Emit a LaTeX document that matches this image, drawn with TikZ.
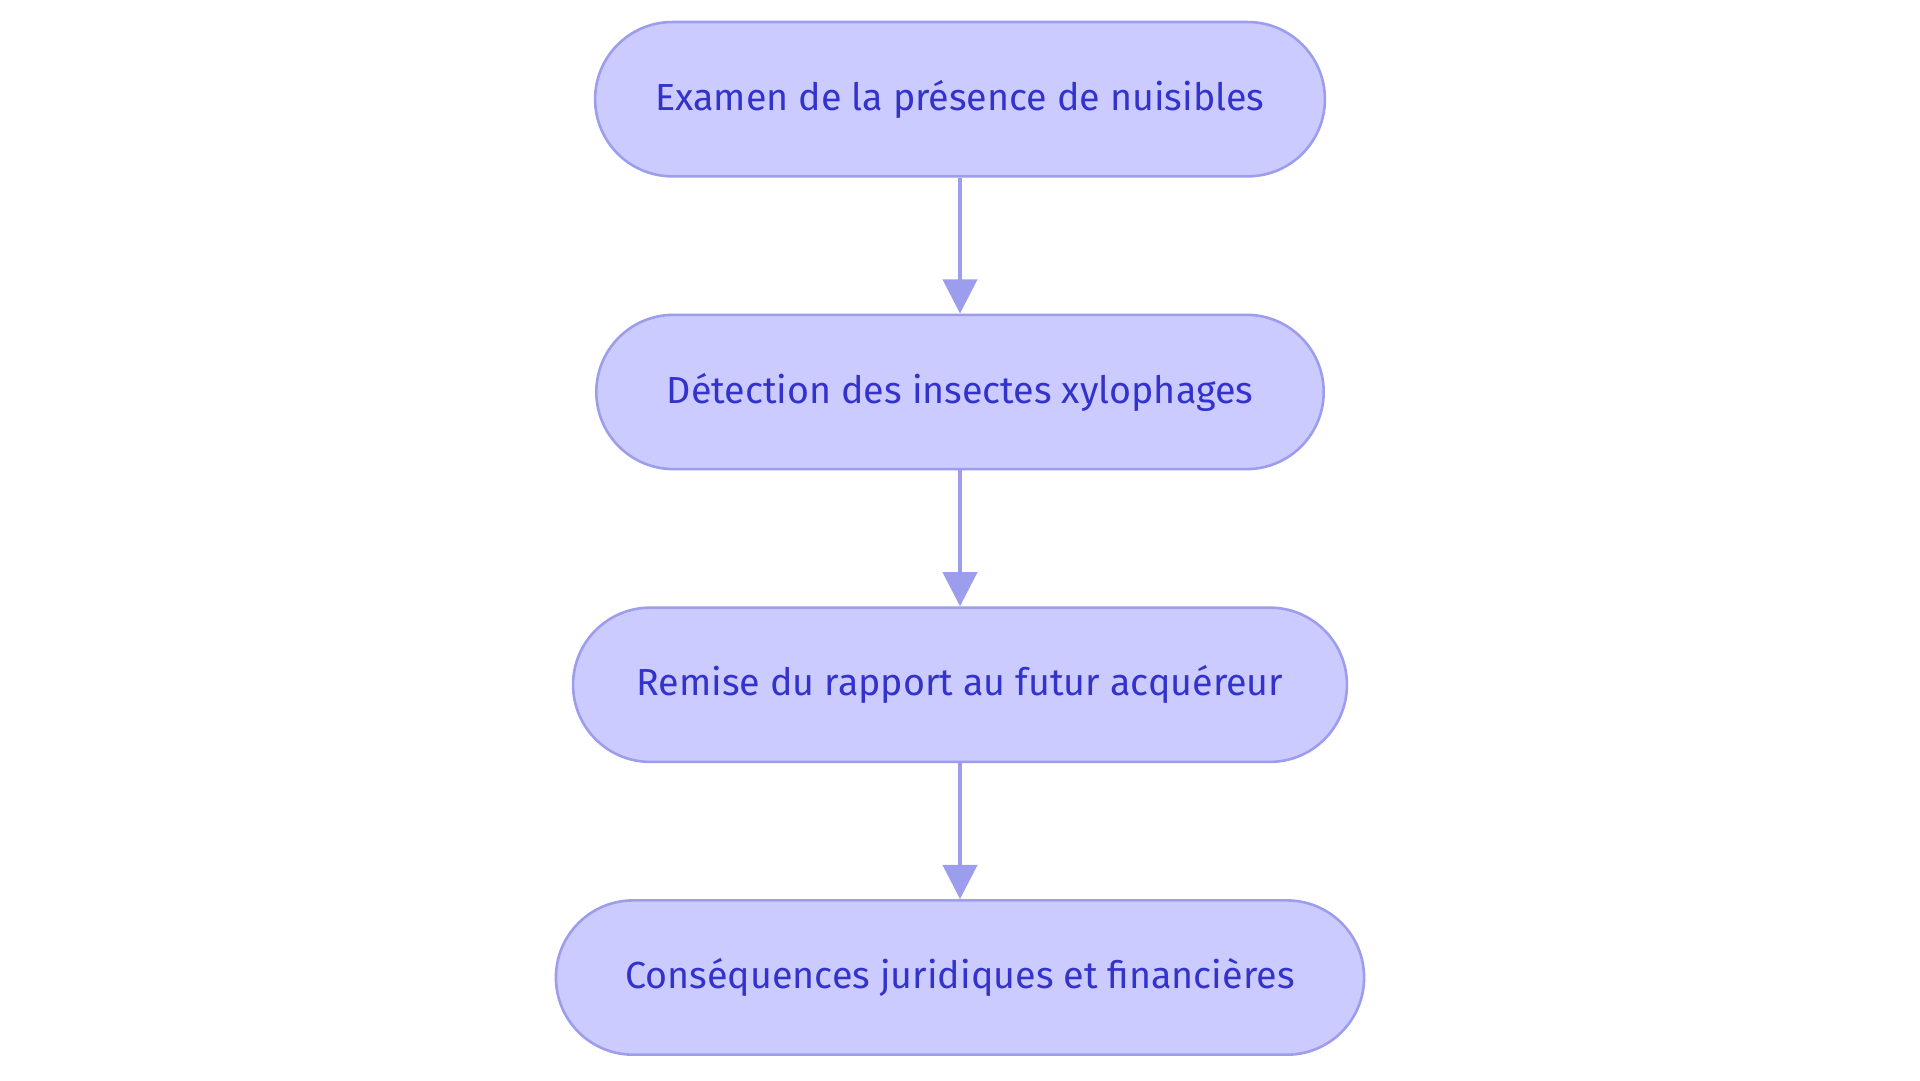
\documentclass[tikz,border=0pt]{standalone}
\usepackage{fontspec}
\setmainfont{Fira Sans}
\usetikzlibrary{positioning,arrows.meta}
\definecolor{boxfill}{HTML}{CBCBFF}
\definecolor{boxline}{HTML}{9D9DED}
\definecolor{boxtext}{HTML}{3333CC}
\begin{document}
\begin{tikzpicture}[
                stage/.style={rectangle, rounded corners=1.26cm, minimum height=2.52cm,
                  fill=boxfill, draw=boxline, line width=1.2pt, text=boxtext,
                  font=\fontsize{17.5}{20}\selectfont},
                flow/.style={draw=boxline, line width=1.7pt, -{Triangle[length=0.56cm,width=0.56cm]}},
                node distance=2.22cm
            ]
            % bounding box of the whole picture
            \useasboundingbox (0,0) rectangle (31.36,-17.64);

            % the four steps
            \node[stage, minimum width=11.92cm] (examen) at (15.68,-1.62) {Examen de la présence de nuisibles};
            \node[stage, minimum width=11.88cm, below=of examen] (detection) {Détection des insectes xylophages};
            \node[stage, minimum width=12.64cm, below=of detection] (remise) {Remise du rapport au futur acquéreur};
            \node[stage, minimum width=13.2cm, below=of remise] (consequences) {Conséquences juridiques et financières};

            % arrows between steps
            \draw[flow] (examen) -- (detection);
            \draw[flow] (detection) -- (remise);
            \draw[flow] (remise) -- (consequences);
\end{tikzpicture}
\end{document}
